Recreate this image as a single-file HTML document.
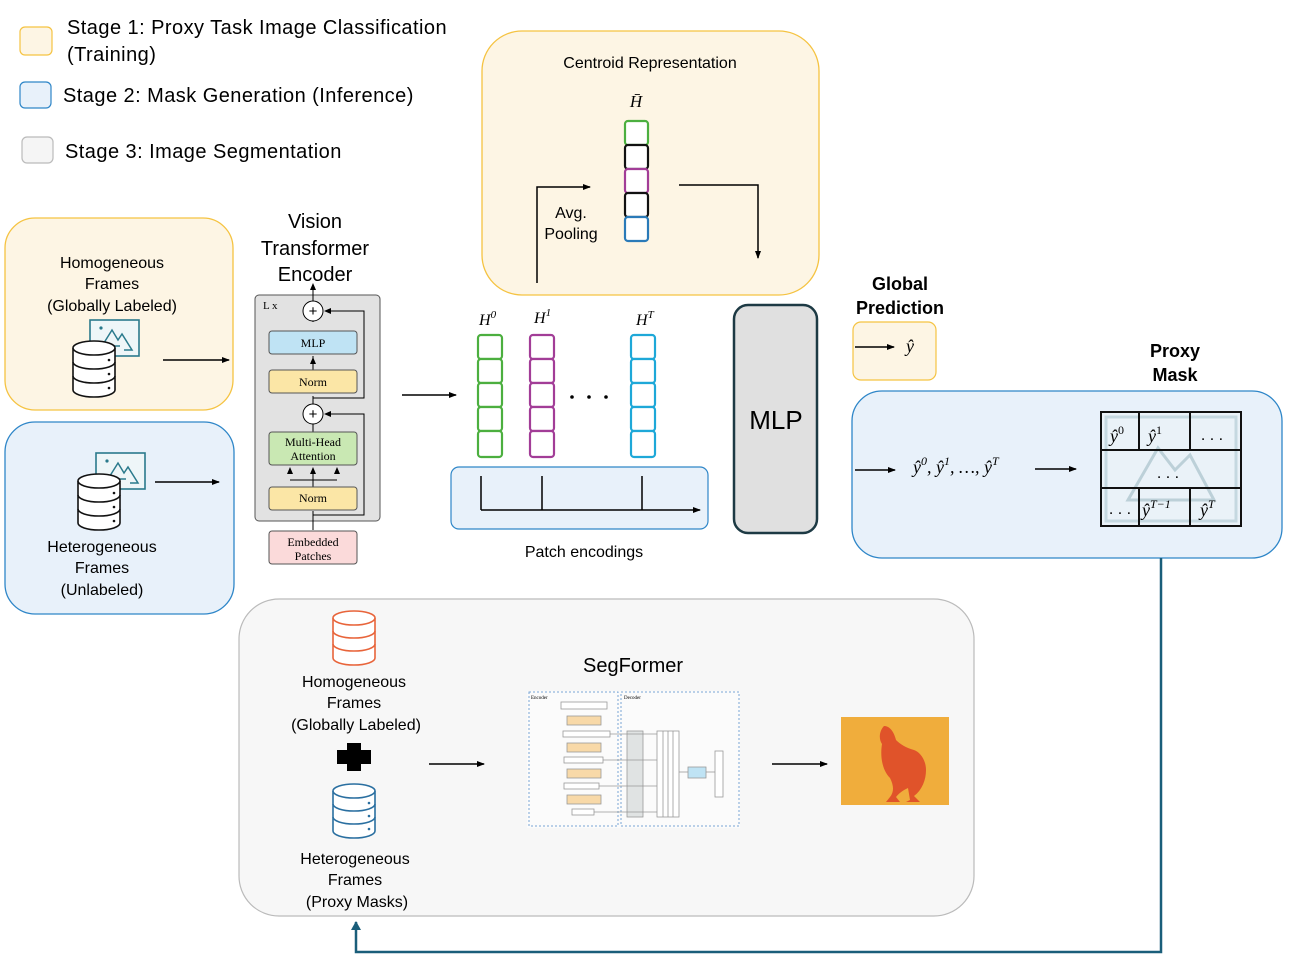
<!DOCTYPE html>
<html><head><meta charset="utf-8"><style>
body{margin:0;background:#fff;}
svg{display:block;font-family:"Liberation Sans",sans-serif;}
.ser{font-family:"Liberation Serif",serif;}
.lg{letter-spacing:0.45px;}
</style></head><body>
<svg width="1291" height="971" viewBox="0 0 1291 971" xmlns="http://www.w3.org/2000/svg">
<defs>
<marker id="ar" markerWidth="8" markerHeight="8" refX="7" refY="4" orient="auto" markerUnits="userSpaceOnUse"><path d="M0,1 L8,4 L0,7 z" fill="#000"/></marker>
<marker id="arb" markerWidth="10" markerHeight="10" refX="8" refY="5" orient="auto" markerUnits="userSpaceOnUse"><path d="M0,0 L9,5 L0,10 z" fill="#1a5e7a"/></marker>
<g id="db">
<path d="M0,8 L0,50 A21,7 0 0 0 42,50 L42,8" fill="#fff" stroke="#111" stroke-width="1.6"/>
<ellipse cx="21" cy="8" rx="21" ry="7" fill="#fff" stroke="#111" stroke-width="1.6"/>
<path d="M0,22 A21,7 0 0 0 42,22 M0,36 A21,7 0 0 0 42,36" fill="none" stroke="#111" stroke-width="1.6"/>
<circle cx="36" cy="20" r="1.3" fill="#111"/><circle cx="36" cy="34" r="1.3" fill="#111"/><circle cx="36" cy="48" r="1.3" fill="#111"/>
</g>
<g id="pic">
<rect x="0" y="0" width="49" height="36" fill="#eef6f8" stroke="#2a7a8c" stroke-width="1.6"/>
<path d="M12,26 L22,10 L28,20 L32,14 L42,30 L34,30 M12,26 L30,26" fill="none" stroke="#2a7a8c" stroke-width="1.5"/>
<circle cx="11" cy="8" r="1.6" fill="#2a7a8c"/>
</g>
</defs>

<!-- legend -->
<rect x="20" y="27" width="32" height="28" rx="5" fill="#fdf5e4" stroke="#f5c342" stroke-width="1.2"/>
<text x="67" y="34" font-size="20" class="lg">Stage 1: Proxy Task Image Classification</text>
<text x="67" y="61" font-size="20" class="lg">(Training)</text>
<rect x="20" y="82" width="31" height="26" rx="5" fill="#e8f1fa" stroke="#2e86c8" stroke-width="1.2"/>
<text x="63" y="102" font-size="20" class="lg">Stage 2: Mask Generation (Inference)</text>
<rect x="22" y="137" width="31" height="26" rx="5" fill="#f5f5f5" stroke="#bbb" stroke-width="1.2"/>
<text x="65" y="158" font-size="20" class="lg">Stage 3: Image Segmentation</text>

<!-- left boxes -->
<rect x="5" y="218" width="228" height="192" rx="30" fill="#fdf5e4" stroke="#f5c342" stroke-width="1.3"/>
<text font-size="16" text-anchor="middle"><tspan x="112" y="268">Homogeneous</tspan><tspan x="112" y="289">Frames</tspan><tspan x="112" y="311">(Globally Labeled)</tspan></text>
<use href="#pic" x="90" y="320"/>
<use href="#db" x="73" y="340"/>
<line x1="163" y1="360" x2="229" y2="360" stroke="#000" stroke-width="1.5" marker-end="url(#ar)"/>

<rect x="5" y="422" width="229" height="192" rx="30" fill="#e8f1fa" stroke="#2e86c8" stroke-width="1.3"/>
<text font-size="16" text-anchor="middle"><tspan x="102" y="552">Heterogeneous</tspan><tspan x="102" y="573">Frames</tspan><tspan x="102" y="595">(Unlabeled)</tspan></text>
<use href="#pic" x="96" y="453"/>
<use href="#db" x="78" y="473"/>
<line x1="155" y1="482" x2="219" y2="482" stroke="#000" stroke-width="1.5" marker-end="url(#ar)"/>

<!-- ViT -->
<text font-size="20" text-anchor="middle"><tspan x="315" y="228">Vision</tspan><tspan x="315" y="255">Transformer</tspan><tspan x="315" y="281">Encoder</tspan></text>
<rect x="255" y="295" width="125" height="226" rx="4" fill="#e2e2e2" stroke="#555" stroke-width="1"/>
<text x="263" y="309" class="ser" font-size="11">L x</text>
<g stroke="#000" stroke-width="1" fill="none">
<line x1="313" y1="530" x2="313" y2="511"/>
<line x1="313" y1="487" x2="313" y2="474"/>
<line x1="290" y1="480" x2="337" y2="480"/>
<line x1="313" y1="432" x2="313" y2="424"/>
<line x1="313" y1="404" x2="313" y2="396"/>
<line x1="313" y1="370" x2="313" y2="356"/>
<line x1="313" y1="322" x2="313" y2="288"/>
<path d="M313,515 L364,515 L364,414 L328,414"/>
<path d="M313,398 L364,398 L364,311 L328,311"/>
</g>
<g fill="#000">
<path d="M310,290 L313,283 L316,290z"/>
<path d="M287,474 L290,467 L293,474z"/><path d="M310,474 L313,467 L316,474z"/><path d="M334,474 L337,467 L340,474z"/>
<path d="M331,411 L324,414 L331,417z"/><path d="M331,308 L324,311 L331,314z"/>
<path d="M310,364 L313,357 L316,364z"/>
</g>
<circle cx="313" cy="311" r="10" fill="#fff" stroke="#000"/><text x="313" y="316" text-anchor="middle" font-size="15">+</text>
<circle cx="313" cy="414" r="10" fill="#fff" stroke="#000"/><text x="313" y="419" text-anchor="middle" font-size="15">+</text>
<rect x="269" y="331" width="88" height="23" rx="3" fill="#bfe3f4" stroke="#555"/>
<text x="313" y="347" class="ser" text-anchor="middle" font-size="12">MLP</text>
<rect x="269" y="370" width="88" height="23" rx="3" fill="#fbe6a6" stroke="#555"/>
<text x="313" y="386" class="ser" text-anchor="middle" font-size="12">Norm</text>
<rect x="269" y="432" width="88" height="33" rx="3" fill="#c9e8b3" stroke="#555"/>
<text class="ser" text-anchor="middle" font-size="12"><tspan x="313" y="446">Multi-Head</tspan><tspan x="313" y="460">Attention</tspan></text>
<rect x="269" y="487" width="88" height="23" rx="3" fill="#fbe6a6" stroke="#555"/>
<text x="313" y="502" class="ser" text-anchor="middle" font-size="12">Norm</text>
<rect x="269" y="531" width="88" height="33" rx="3" fill="#fbdada" stroke="#555"/>
<text class="ser" text-anchor="middle" font-size="12"><tspan x="313" y="546">Embedded</tspan><tspan x="313" y="560">Patches</tspan></text>
<line x1="402" y1="395" x2="456" y2="395" stroke="#000" stroke-width="1.5" marker-end="url(#ar)"/>

<!-- centroid -->
<rect x="482" y="31" width="337" height="264" rx="40" fill="#fdf5e4" stroke="#f5c342" stroke-width="1.3"/>
<text x="650" y="68" text-anchor="middle" font-size="16">Centroid Representation</text>
<text x="636" y="107" class="ser" text-anchor="middle" font-size="17" font-style="italic">H̄</text>
<g stroke-width="2.2" fill="#fff">
<rect x="625" y="121" width="23" height="24" rx="3" stroke="#4caf3f"/>
<rect x="625" y="145" width="23" height="24" rx="3" stroke="#111"/>
<rect x="625" y="169" width="23" height="24" rx="3" stroke="#a23d97"/>
<rect x="625" y="193" width="23" height="24" rx="3" stroke="#111"/>
<rect x="625" y="217" width="23" height="24" rx="3" stroke="#2a7ab8"/>
</g>
<path d="M537,283 L537,187 L590,187" fill="none" stroke="#000" stroke-width="1.5" marker-end="url(#ar)"/>
<text font-size="16" text-anchor="middle"><tspan x="571" y="218">Avg.</tspan><tspan x="571" y="239">Pooling</tspan></text>
<path d="M679,185 L758,185 L758,258" fill="none" stroke="#000" stroke-width="1.5" marker-end="url(#ar)"/>

<!-- H columns -->
<g class="ser" font-size="16" font-style="italic"><text x="479" y="325">H<tspan font-size="11" dy="-7">0</tspan></text><text x="534" y="323">H<tspan font-size="11" dy="-7">1</tspan></text><text x="636" y="325">H<tspan font-size="11" dy="-7">T</tspan></text></g>
<g fill="#fff" stroke-width="2.2">
<g stroke="#4caf3f"><rect x="478" y="335" width="24" height="24" rx="3"/><rect x="478" y="359" width="24" height="24" rx="3"/><rect x="478" y="383" width="24" height="24" rx="3"/><rect x="478" y="407" width="24" height="24" rx="3"/><rect x="478" y="431" width="24" height="26" rx="3"/></g>
<g stroke="#a23d97"><rect x="530" y="335" width="24" height="24" rx="3"/><rect x="530" y="359" width="24" height="24" rx="3"/><rect x="530" y="383" width="24" height="24" rx="3"/><rect x="530" y="407" width="24" height="24" rx="3"/><rect x="530" y="431" width="24" height="26" rx="3"/></g>
<g stroke="#1ea8d8"><rect x="631" y="335" width="24" height="24" rx="3"/><rect x="631" y="359" width="24" height="24" rx="3"/><rect x="631" y="383" width="24" height="24" rx="3"/><rect x="631" y="407" width="24" height="24" rx="3"/><rect x="631" y="431" width="24" height="26" rx="3"/></g>
</g>
<circle cx="572" cy="397" r="1.8"/><circle cx="589" cy="397" r="1.8"/><circle cx="606" cy="397" r="1.8"/>
<rect x="451" y="467" width="257" height="62" rx="8" fill="#e8f1fa" stroke="#2e86c8" stroke-width="1.2"/>
<g stroke="#000" stroke-width="1.5"><line x1="481" y1="476" x2="481" y2="510"/><line x1="542" y1="476" x2="542" y2="510"/><line x1="642" y1="476" x2="642" y2="510"/><line x1="481" y1="510" x2="700" y2="510" marker-end="url(#ar)"/></g>
<text x="584" y="557" text-anchor="middle" font-size="16">Patch encodings</text>

<!-- MLP -->
<rect x="734" y="305" width="83" height="228" rx="14" fill="#e0e0e0" stroke="#1d3a44" stroke-width="2.5"/>
<text x="776" y="429" text-anchor="middle" font-size="26">MLP</text>

<!-- global prediction -->
<text font-size="18" font-weight="bold" text-anchor="middle"><tspan x="900" y="290">Global</tspan><tspan x="900" y="314">Prediction</tspan></text>
<rect x="853" y="322" width="83" height="58" rx="8" fill="#fdf5e4" stroke="#f5c342" stroke-width="1.2"/>
<line x1="855" y1="347" x2="894" y2="347" stroke="#000" stroke-width="1.5" marker-end="url(#ar)"/>
<text x="910" y="352" class="ser" font-size="18" font-style="italic" text-anchor="middle">ŷ</text>

<text font-size="18" font-weight="bold" text-anchor="middle"><tspan x="1175" y="357">Proxy</tspan><tspan x="1175" y="381">Mask</tspan></text>
<rect x="852" y="391" width="430" height="167" rx="30" fill="#e8f1fa" stroke="#2e86c8" stroke-width="1.3"/>
<line x1="855" y1="470" x2="895" y2="470" stroke="#000" stroke-width="1.5" marker-end="url(#ar)"/>
<text x="913" y="473" class="ser" font-size="18" font-style="italic">ŷ<tspan font-size="12" dy="-8">0</tspan><tspan dy="8">, ŷ</tspan><tspan font-size="12" dy="-8">1</tspan><tspan dy="8">, …, ŷ</tspan><tspan font-size="12" dy="-8">T</tspan></text>
<line x1="1035" y1="469" x2="1076" y2="469" stroke="#000" stroke-width="1.5" marker-end="url(#ar)"/>
<rect x="1101" y="412" width="140" height="114" fill="#eaf2f8" stroke="#111" stroke-width="2"/>
<rect x="1106" y="417" width="130" height="104" fill="none" stroke="#c5d8e0" stroke-width="3"/>
<path d="M1128,500 L1158,448 L1175,470 L1190,455 L1214,500 z" fill="none" stroke="#bcd0d8" stroke-width="3"/>
<g stroke="#111" stroke-width="2"><line x1="1101" y1="450" x2="1241" y2="450"/><line x1="1101" y1="488" x2="1241" y2="488"/><line x1="1139" y1="412" x2="1139" y2="450"/><line x1="1190" y1="412" x2="1190" y2="450"/><line x1="1139" y1="488" x2="1139" y2="526"/><line x1="1190" y1="488" x2="1190" y2="526"/></g>
<g class="ser" font-size="18" font-style="italic">
<text x="1110" y="442">ŷ<tspan font-size="12" dy="-8" font-style="normal">0</tspan></text>
<text x="1148" y="442">ŷ<tspan font-size="12" dy="-8" font-style="normal">1</tspan></text>
<text x="1142" y="516">ŷ<tspan font-size="12" dy="-8">T−1</tspan></text>
<text x="1200" y="516">ŷ<tspan font-size="12" dy="-8">T</tspan></text>
</g>
<text x="1212" y="440" text-anchor="middle" font-size="16">. . .</text>
<text x="1168" y="478" text-anchor="middle" font-size="16">. . .</text>
<text x="1120" y="514" text-anchor="middle" font-size="16">. . .</text>

<!-- feedback line -->
<path d="M1161,558 L1161,952 L356,952 L356,922" fill="none" stroke="#1a5e7a" stroke-width="2.5" marker-end="url(#arb)"/>

<!-- stage 3 -->
<rect x="239" y="599" width="735" height="317" rx="40" fill="#f7f7f7" stroke="#bbb" stroke-width="1.2"/>
<g transform="translate(333,610)">
<path d="M0,8 L0,48 A21,7 0 0 0 42,48 L42,8" fill="#fff" stroke="#e8643a" stroke-width="1.6"/>
<ellipse cx="21" cy="8" rx="21" ry="7" fill="#fff" stroke="#e8643a" stroke-width="1.6"/>
<path d="M0,21 A21,7 0 0 0 42,21 M0,34 A21,7 0 0 0 42,34" fill="none" stroke="#e8643a" stroke-width="1.6"/>
</g>
<text font-size="16" text-anchor="middle"><tspan x="354" y="687">Homogeneous</tspan><tspan x="354" y="708">Frames</tspan><tspan x="356" y="730">(Globally Labeled)</tspan></text>
<path d="M347,743 h14 v7 h10 v14 h-10 v7 h-14 v-7 h-10 v-14 h10 z" fill="#000"/>
<g transform="translate(333,783)">
<path d="M0,8 L0,48 A21,7 0 0 0 42,48 L42,8" fill="#fff" stroke="#2a6fa0" stroke-width="1.6"/>
<ellipse cx="21" cy="8" rx="21" ry="7" fill="#fff" stroke="#2a6fa0" stroke-width="1.6"/>
<path d="M0,21 A21,7 0 0 0 42,21 M0,34 A21,7 0 0 0 42,34" fill="none" stroke="#2a6fa0" stroke-width="1.6"/>
<circle cx="36" cy="20" r="1.3" fill="#2a6fa0"/><circle cx="36" cy="33" r="1.3" fill="#2a6fa0"/><circle cx="36" cy="46" r="1.3" fill="#2a6fa0"/>
</g>
<text font-size="16" text-anchor="middle"><tspan x="355" y="864">Heterogeneous</tspan><tspan x="355" y="885">Frames</tspan><tspan x="357" y="907">(Proxy Masks)</tspan></text>
<text x="633" y="672" text-anchor="middle" font-size="20">SegFormer</text>
<line x1="429" y1="764" x2="484" y2="764" stroke="#000" stroke-width="1.5" marker-end="url(#ar)"/>
<line x1="772" y1="764" x2="827" y2="764" stroke="#000" stroke-width="1.5" marker-end="url(#ar)"/>

<!-- segformer mini diagram -->
<rect x="527" y="691" width="213" height="137" fill="#fbfbfb"/>
<rect x="529" y="692" width="89" height="134" fill="none" stroke="#7aa6d6" stroke-dasharray="2,2"/>
<rect x="621" y="692" width="118" height="134" fill="none" stroke="#7aa6d6" stroke-dasharray="2,2"/>
<g stroke="#999" stroke-width="0.8">
<rect x="561" y="702" width="46" height="7" fill="#fff"/>
<rect x="567" y="716" width="34" height="9" fill="#f8d9a8"/><rect x="563" y="731" width="47" height="6" fill="#fff"/>
<rect x="567" y="743" width="34" height="9" fill="#f8d9a8"/><rect x="564" y="757" width="39" height="6" fill="#fff"/>
<rect x="567" y="769" width="34" height="9" fill="#f8d9a8"/><rect x="564" y="783" width="35" height="6" fill="#fff"/>
<rect x="567" y="795" width="34" height="9" fill="#f8d9a8"/><rect x="572" y="809" width="22" height="6" fill="#fff"/>
<rect x="627" y="731" width="16" height="86" fill="#e0e3e3"/>
<rect x="657" y="731" width="22" height="86" fill="#fff"/>
<line x1="663" y1="731" x2="663" y2="817"/><line x1="668" y1="731" x2="668" y2="817"/><line x1="673" y1="731" x2="673" y2="817"/>
<rect x="688" y="767" width="18" height="11" fill="#bfe3f4"/>
<rect x="715" y="751" width="8" height="46" fill="#fff"/>
<line x1="610" y1="734" x2="657" y2="734"/><line x1="603" y1="760" x2="657" y2="760"/><line x1="599" y1="786" x2="657" y2="786"/><line x1="594" y1="812" x2="657" y2="812"/>
<line x1="679" y1="772" x2="688" y2="772"/><line x1="706" y1="772" x2="715" y2="772"/>
</g>
<text x="531" y="699" font-size="5" class="ser">Encoder</text><text x="624" y="699" font-size="5" class="ser">Decoder</text>

<!-- chicken image -->
<rect x="841" y="717" width="108" height="88" fill="#f0ad3c"/>
<path d="M884,726 C880,730 878,738 882,744 C880,756 882,770 890,778 C894,786 894,792 890,797 L886,802 L900,802 L896,797 C900,792 904,790 908,788 L910,800 L906,802 L920,802 L914,796 C922,790 926,780 926,770 C926,760 920,752 914,750 C906,748 900,744 896,740 C894,732 890,726 884,726 z" fill="#e0532a"/>
</svg>
</body></html>
